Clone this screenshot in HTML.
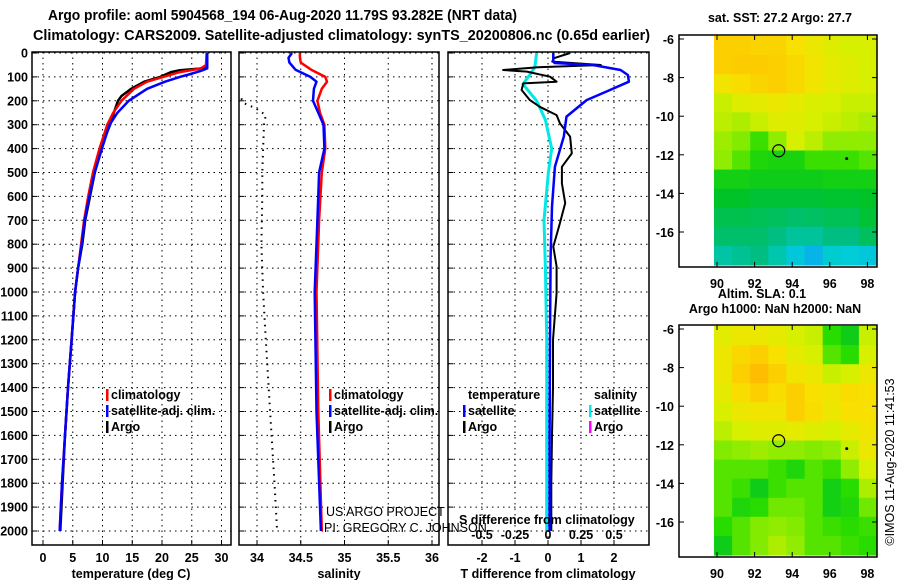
<!DOCTYPE html>
<html><head><meta charset="utf-8"><style>
body{margin:0;background:#fff}
svg{display:block}
text{font-family:"Liberation Sans",sans-serif;font-weight:bold;font-size:12.5px;fill:#000}
</style></head><body>
<svg id="s" width="900" height="580" xmlns="http://www.w3.org/2000/svg">
<text x="48" y="20" textLength="469" lengthAdjust="spacingAndGlyphs" style="font-size:14.5px">Argo profile: aoml 5904568_194 06-Aug-2020 11.79S 93.282E (NRT data)</text>
<text x="33" y="40" textLength="617" lengthAdjust="spacingAndGlyphs" style="font-size:14.5px">Climatology: CARS2009. Satellite-adjusted climatology: synTS_20200806.nc (0.65d earlier)</text>
<text x="780" y="22" text-anchor="middle">sat. SST: 27.2 Argo: 27.7</text>
<text x="762" y="298" text-anchor="middle">Altim. SLA: 0.1</text>
<text x="775" y="313" text-anchor="middle">Argo h1000: NaN h2000: NaN</text>
<text transform="translate(894,462) rotate(-90)" text-anchor="middle" style="font-weight:normal">©IMOS 11-Aug-2020 11:41:53</text>
<g id="g"></g>
</svg>
<script>
// ---------- data ----------
const depthTicks=[0,100,200,300,400,500,600,700,800,900,1000,1100,1200,1300,1400,1500,1600,1700,1800,1900,2000];
const tempTicks=[0,5,10,15,20,25,30];
const salTicks=[34,34.5,35,35.5,36];
const salTickLabels=["34","34.5","35","35.5","36"];
const tdiffTicks=[-2,-1,0,1,2];
const sdiffTicks=[-0.5,-0.25,0,0.25,0.5];
const sdiffLabels=["-0.5","-0.25","0","0.25","0.5"];

const argoTD=[0,60,66,72,80,100,120,150,180,200,250,300,400,500,600,700,800,900,1000,1200,1400,1600,1800,2000];
const argoT=[27.6,27.6,26,23,21.5,19.7,17,14.8,13.2,12.6,11.9,11.3,9.6,8.7,7.9,7.1,6.6,5.9,5.4,4.8,4.2,3.7,3.3,2.9];
const climTD=[0,50,65,80,100,120,150,200,250,300,400,500,600,700,800,900,1000,1200,1400,1600,1800,2000];
const climT=[27.5,27.4,26.5,23,20.2,17.5,15.3,13.2,11.8,10.8,9.5,8.4,7.6,6.9,6.4,5.9,5.4,4.8,4.2,3.7,3.2,2.8];
const satTD=[0,65,75,90,100,120,150,200,250,300,400,500,600,700,800,900,1000,1200,1400,1600,1800,2000];
const satT=[27.6,27.6,26.5,24.5,23,20.5,17.5,14.4,12.5,11.2,9.9,8.7,7.8,7.0,6.5,5.9,5.4,4.8,4.2,3.7,3.2,2.8];

const salD=[0,20,40,70,100,120,150,200,250,300,400,500,700,1000,1500,2000];
const climS=[34.49,34.49,34.50,34.62,34.78,34.80,34.74,34.69,34.72,34.77,34.78,34.74,34.71,34.68,34.70,34.74];
const satS=[34.40,34.36,34.37,34.44,34.61,34.68,34.65,34.64,34.70,34.76,34.77,34.71,34.69,34.66,34.68,34.73];
const dotD=[190,210,230,260,300,400,500,600,800,1000,1200,1500,1800,2000];
const dotS=[33.82,33.85,33.98,34.10,34.08,34.07,34.06,34.06,34.05,34.07,34.10,34.15,34.20,34.23];

const tdD=[0,22,36,50,60,71,78,99,120,127,155,197,225,260,294,350,420,476,545,628,712,810,893,1005,1200,1400,1600,1800,2000];
const argoTdiff=[0.67,0.17,0.13,1.6,-0.3,-1.36,-0.64,0.06,0.26,-0.75,-0.8,-0.55,-0.25,0.26,0.36,0.67,0.72,0.42,0.42,0.52,0.36,0.16,0.26,0.26,0.15,0.15,0.12,0.1,0.1];
const satTdD=[0,35,42,50,71,92,120,155,197,266,350,476,643,852,1200,1600,2000];
const satTdiff=[0.16,0.16,0.2,1.36,2.2,2.42,2.45,1.88,1.17,0.56,0.48,0.21,0.12,0.08,0.06,0.05,0.05];
const sdD=[0,60,90,130,200,280,400,500,700,900,1200,1600,2000];
const satSdiff=[-0.086,-0.1,-0.136,-0.19,-0.086,-0.02,0.028,0.003,-0.03,-0.02,-0.01,-0.01,-0.01];

const sstGrid=[
[0.86,0.86,0.85,0.85,0.82,0.78,0.74,0.72,0.72],
[0.86,0.87,0.87,0.86,0.84,0.8,0.76,0.74,0.72],
[0.8,0.83,0.85,0.86,0.84,0.8,0.76,0.74,0.72],
[0.7,0.74,0.76,0.78,0.76,0.73,0.72,0.7,0.7],
[0.68,0.66,0.7,0.74,0.74,0.72,0.7,0.68,0.66],
[0.64,0.6,0.52,0.62,0.72,0.68,0.62,0.62,0.62],
[0.62,0.55,0.48,0.47,0.47,0.52,0.52,0.52,0.55],
[0.46,0.46,0.45,0.45,0.45,0.45,0.46,0.46,0.46],
[0.42,0.42,0.4,0.4,0.4,0.4,0.41,0.41,0.42],
[0.37,0.37,0.36,0.35,0.33,0.34,0.36,0.36,0.4],
[0.33,0.33,0.33,0.3,0.27,0.27,0.3,0.3,0.35],
[0.26,0.28,0.3,0.25,0.19,0.16,0.21,0.2,0.19]];
const slaGrid=[
[0.75,0.78,0.78,0.76,0.72,0.7,0.5,0.45,0.7],
[0.78,0.84,0.86,0.82,0.76,0.72,0.55,0.5,0.72],
[0.78,0.86,0.9,0.86,0.8,0.78,0.7,0.72,0.78],
[0.76,0.83,0.86,0.83,0.86,0.82,0.8,0.83,0.82],
[0.72,0.78,0.8,0.8,0.86,0.83,0.78,0.82,0.82],
[0.68,0.72,0.74,0.74,0.76,0.74,0.72,0.76,0.8],
[0.6,0.62,0.64,0.62,0.62,0.6,0.62,0.7,0.78],
[0.55,0.55,0.55,0.52,0.48,0.55,0.52,0.62,0.72],
[0.55,0.52,0.45,0.52,0.55,0.55,0.46,0.5,0.66],
[0.55,0.48,0.5,0.58,0.58,0.55,0.46,0.48,0.58],
[0.5,0.55,0.6,0.62,0.6,0.55,0.52,0.5,0.52],
[0.45,0.55,0.6,0.66,0.62,0.55,0.55,0.52,0.5]];
const lonTicks=[90,92,94,96,98];
const latTicks=[-6,-8,-10,-12,-14,-16];
const argoLon=93.28, argoLat=-11.79;

// ---------- helpers ----------
const NS="http://www.w3.org/2000/svg";
const G=document.getElementById('g');
function mk(tag,attrs,txt){const e=document.createElementNS(NS,tag);for(const k in attrs)e.setAttribute(k,attrs[k]);if(txt!==undefined)e.textContent=txt;G.appendChild(e);return e;}
const yD=d=>53+d*0.239;
const xT=t=>43+t*5.95;
const xS=s=>257+(s-34)*87.5;
const xTd=t=>548+t*33;
const xSd=s=>548+s*132;
const PT=52,PB=545;

function line(xs,ds,fx,color,w,name,dash){
  let p=ds.map((d,i)=>fx(xs[i]).toFixed(1)+','+yD(d).toFixed(1)).join(' ');
  const e=mk('polyline',{points:p,fill:'none',stroke:color,'stroke-width':w,'stroke-dasharray':dash||'none','stroke-linejoin':'round'});
  
  
}
function frame(x0,x1,name){
  const e=mk('rect',{x:x0,y:PT,width:x1-x0,height:PB-PT,fill:'none',stroke:'#000','stroke-width':1.5});
  
  
}
function grid(x0,x1,vx){
  depthTicks.forEach(d=>{mk('line',{x1:x0,x2:x1,y1:yD(d),y2:yD(d),stroke:'#000','stroke-dasharray':'1.5,4','stroke-width':1});
    mk('line',{x1:x0,x2:x0+5,y1:yD(d),y2:yD(d),stroke:'#000'});});
  vx.forEach(x=>{mk('line',{x1:x,x2:x,y1:PT,y2:PB,stroke:'#000','stroke-dasharray':'1.5,4','stroke-width':1});
    mk('line',{x1:x,x2:x,y1:PB,y2:PB-5,stroke:'#000'});});
}
depthTicks.forEach(d=>{const t=mk('text',{x:28,y:yD(d)+4.5,'text-anchor':'end'},String(d));
  
  });

// panel 1
grid(32,231,tempTicks.map(xT));
tempTicks.forEach(t=>{const e=mk('text',{x:xT(t),y:562,'text-anchor':'middle'},String(t));
  
  });
line(argoT,argoTD,xT,'#000',2.5,'argo-temperature-line');
line(climT,climTD,xT,'#f00',2.5,'clim-temperature-line');
line(satT,satTD,xT,'#00f',2.5,'satellite-temperature-line');
frame(32,231,'temperature-panel');
let t1=mk('text',{x:131,y:578,'text-anchor':'middle'},'temperature (deg C)');



// panel 2
grid(239,439,salTicks.map(xS));
salTicks.forEach((s,i)=>{const e=mk('text',{x:xS(s),y:562,'text-anchor':'middle'},salTickLabels[i]);
  
  });
line(dotS,dotD,xS,'#000',2,'dotted-reference-line','1.5,5');
line(climS,salD,xS,'#f00',2.5,'clim-salinity-line');
line(satS,salD,xS,'#00f',2.5,'satellite-salinity-line');
frame(239,439,'salinity-panel');
let t2=mk('text',{x:339,y:578,'text-anchor':'middle'},'salinity');


let c1=mk('text',{x:326,y:516,style:'font-weight:normal'},'US ARGO PROJECT');


let c2=mk('text',{x:324,y:532,style:'font-weight:normal'},'PI: GREGORY C. JOHNSON');



// panel 3
grid(448,649,tdiffTicks.map(xTd));
tdiffTicks.forEach(t=>{const e=mk('text',{x:xTd(t),y:562,'text-anchor':'middle'},String(t));
  
  });
line(satSdiff,sdD,xSd,'#00e8e8',3,'satellite-salinity-diff-line');
line(argoTdiff,tdD,xTd,'#000',2,'argo-temperature-diff-line');
line(satTdiff,satTdD,xTd,'#00f',2.5,'satellite-temperature-diff-line');
frame(448,649,'difference-panel');
let t3=mk('text',{x:548,y:578,'text-anchor':'middle'},'T difference from climatology');


let t4=mk('text',{x:459,y:524},'S difference from climatology');


sdiffTicks.forEach((s,i)=>{const e=mk('text',{x:xSd(s),y:539,'text-anchor':'middle'},sdiffLabels[i]);
  
  });

// legends
function leg(x,y,color,label,name){
  const r=mk('rect',{x:x-5,y:y-10,width:2.5,height:12,fill:color});
  
  
  const t=mk('text',{x:x,y:y},label);
  
  
}
leg(111,399,'#f00','climatology','legend-climatology');
leg(111,415,'#00f','satellite-adj. clim.','legend-satellite-adj');
leg(111,431,'#000','Argo','legend-argo');
leg(334,399,'#f00','climatology','legend-climatology-s');
leg(334,415,'#00f','satellite-adj. clim.','legend-satellite-adj-s');
leg(334,431,'#000','Argo','legend-argo-s');
let lt=mk('text',{x:468,y:399},'temperature');


let ls=mk('text',{x:594,y:399},'salinity');


leg(468,415,'#00f','satellite','legend-t-satellite');
leg(468,431,'#000','Argo','legend-t-argo');
leg(594,415,'#00e8e8','satellite','legend-s-satellite');
leg(594,431,'#f0f','Argo','legend-s-argo');

// ---------- maps ----------
const stops=[[0.1,[20,140,255]],[0.2,[0,205,215]],[0.3,[0,190,130]],[0.42,[0,195,40]],[0.5,[40,220,0]],[0.6,[130,235,0]],[0.72,[215,240,0]],[0.82,[248,225,0]],[0.92,[255,180,0]]];
function cmap(v){
  if(v<=stops[0][0])return 'rgb('+stops[0][1]+')';
  for(let i=1;i<stops.length;i++){if(v<=stops[i][0]){const a=stops[i-1],b=stops[i],f=(v-a[0])/(b[0]-a[0]);
    return 'rgb('+a[1].map((c,k)=>Math.round(c+(b[1][k]-c)*f)).join(',')+')';}}
  return 'rgb('+stops[stops.length-1][1]+')';
}
function map(top,gridV,name){
  const lx=lon=>717+(lon-90)*18.8;
  const ly=lat=>top+4+(-6-lat)*19.3;
  const x0=714,x1=877,yb=top+230;
  const rows=gridV.length,cols=gridV[0].length;
  const y0=ly(-6)-3;
  const cw=(x1-x0)/cols,ch=(yb-y0)/rows;
  gridV.forEach((row,r)=>row.forEach((v,c)=>{
    const e=mk('rect',{x:(x0+c*cw).toFixed(1),y:(y0+r*ch).toFixed(1),width:(cw+0.6).toFixed(1),height:(ch+0.6).toFixed(1),fill:cmap(v)});
    
    
  }));
  const f=mk('rect',{x:679,y:top,width:198,height:232,fill:'none',stroke:'#000','stroke-width':1.5});
  
  
  latTicks.forEach(l=>{mk('line',{x1:679,x2:684,y1:ly(l),y2:ly(l),stroke:'#000'});mk('line',{x1:872,x2:877,y1:ly(l),y2:ly(l),stroke:'#000'});
    const t=mk('text',{x:674,y:ly(l)+5,'text-anchor':'end'},String(l));
    
    });
  lonTicks.forEach(l=>{mk('line',{x1:lx(l),x2:lx(l),y1:top+232,y2:top+227,stroke:'#000'});mk('line',{x1:lx(l),x2:lx(l),y1:top,y2:top+5,stroke:'#000'});
    const t=mk('text',{x:lx(l),y:top+253,'text-anchor':'middle'},String(l));
    
    });
  const c=mk('circle',{cx:lx(argoLon),cy:ly(argoLat),r:6,fill:'none',stroke:'#000','stroke-width':1.2});
  
  
  const d=mk('circle',{cx:lx(96.9),cy:ly(-12.2),r:1.5,fill:'#000'});
  
  
}
map(35,sstGrid,'sst-map');
map(325,slaGrid,'sla-map');
</script>
</body></html>
